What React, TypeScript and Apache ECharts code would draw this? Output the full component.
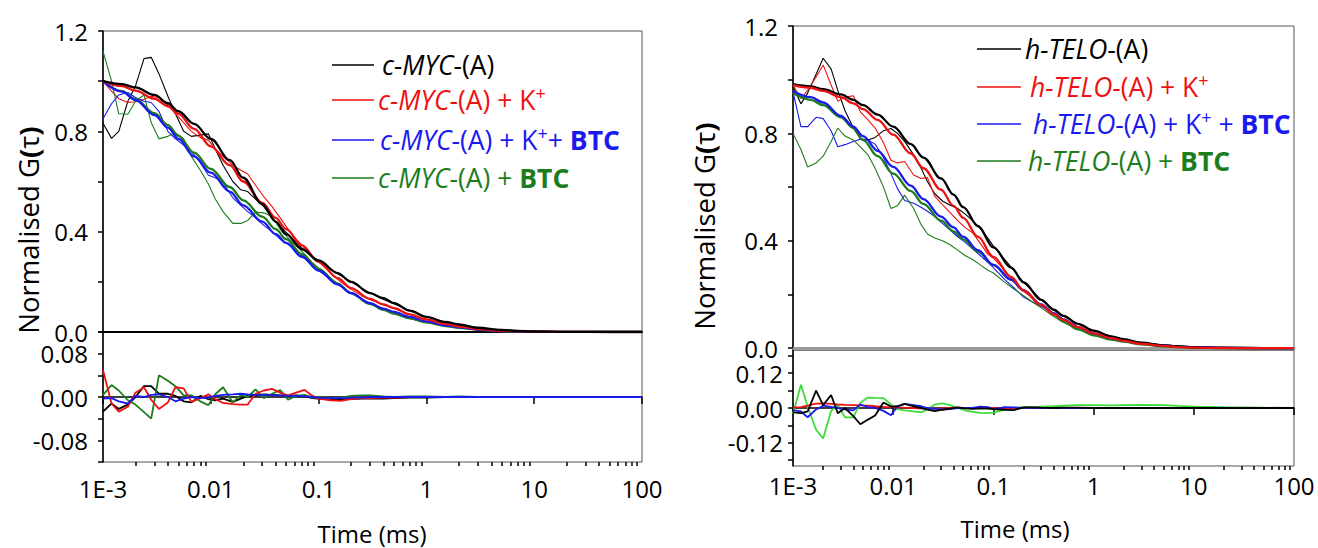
import React, { useEffect, useRef } from "react";
import * as echarts from "echarts";

const FONT = "'Open Sans', sans-serif";

// ---- time grids (ms) ----
const FIT_T = [0.001, 0.0015, 0.002, 0.003, 0.004, 0.005, 0.007, 0.01, 0.015, 0.02, 0.03, 0.04, 0.05, 0.07, 0.1, 0.15, 0.2, 0.3, 0.4, 0.5, 0.7, 1, 1.5, 2, 3, 5, 7, 10, 20, 50, 100];
const DATA_T = [0.001, 0.0012, 0.0014, 0.0017, 0.002, 0.0024, 0.0028, 0.0033, 0.004, 0.0047, 0.0056, 0.0066, 0.008, 0.0095, 0.011, 0.013, 0.016, 0.019, 0.022, 0.026, 0.031, 0.037, 0.044, 0.052, 0.062, 0.074, 0.088, 0.1,
  0.13, 0.16, 0.2, 0.25, 0.3, 0.4, 0.5, 0.7, 1, 1.5, 2, 3, 5, 7, 10, 20, 50, 100];

// ---- tick labels ----
const X_LABELS = ["1E-3", "0.01", "0.1", "1", "10", "100"];
const X_MINOR = [0.002, 0.003, 0.004, 0.005, 0.006, 0.007, 0.008, 0.009, 0.02, 0.03, 0.04, 0.05, 0.06, 0.07, 0.08, 0.09, 0.2, 0.3, 0.4, 0.5, 0.6, 0.7, 0.8, 0.9, 2, 3, 4, 5, 6, 7, 8, 9, 20, 30, 40, 50, 60, 70, 80, 90];
const Y_MAIN_TICKS = [0, 0.2, 0.4, 0.6, 0.8, 1.0, 1.2];
const Y_MAIN_LABELS = [0, 0.4, 0.8, 1.2];
const Y_RES_L_LABELS = [-0.08, 0, 0.08];
const Y_RES_R_TICKS = [-0.18, -0.12, -0.06, 0, 0.06, 0.12, 0.18];
const Y_RES_R_LABELS = [-0.12, 0, 0.12];

// ---- c-MYC panel: fits ----
const blackFitL = [1.0, 0.988, 0.975, 0.945, 0.912, 0.88, 0.83, 0.77, 0.685, 0.615, 0.51, 0.44, 0.39, 0.33, 0.285, 0.235, 0.2, 0.155, 0.135, 0.115, 0.085, 0.06, 0.04, 0.03, 0.017, 0.008, 0.004, 0.002, 0.0005, 0, 0];
const redFitL = [1.0, 0.98, 0.962, 0.93, 0.9, 0.87, 0.81, 0.74, 0.665, 0.6, 0.515, 0.455, 0.41, 0.345, 0.28, 0.215, 0.175, 0.132, 0.11, 0.095, 0.07, 0.05, 0.032, 0.022, 0.012, 0.005, 0.003, 0.0015, 0.0003, 0, 0];
const blueFitL = [1.0, 0.958, 0.925, 0.865, 0.815, 0.77, 0.7, 0.635, 0.56, 0.505, 0.44, 0.39, 0.355, 0.3, 0.245, 0.19, 0.155, 0.115, 0.093, 0.08, 0.06, 0.042, 0.027, 0.019, 0.01, 0.004, 0.002, 0.001, 0.0002, 0, 0];
const greenFitL = [1.0, 0.96, 0.928, 0.872, 0.825, 0.782, 0.715, 0.65, 0.578, 0.525, 0.46, 0.41, 0.37, 0.31, 0.252, 0.193, 0.155, 0.112, 0.088, 0.073, 0.054, 0.038, 0.024, 0.017, 0.009, 0.004, 0.002, 0.001, 0.0002, 0, 0];

// ---- c-MYC panel: measured data ----
const blackDataL = [0.832, 0.772, 0.80, 0.92, 0.98, 1.09, 1.095, 1.03, 0.94, 0.87, 0.80, 0.78, 0.785, 0.79, 0.73, 0.665, 0.60, 0.567, 0.56, 0.53, 0.50, 0.455, 0.42, 0.39, 0.355, 0.325, 0.30, 0.285,
  0.25, 0.225, 0.2, 0.175, 0.156, 0.13, 0.113, 0.085, 0.06, 0.04, 0.03, 0.017, 0.008, 0.004, 0.002, 0.001, 0, 0];
const redDataL = [1.0, 0.96, 0.93, 0.915, 0.918, 0.928, 0.94, 0.935, 0.905, 0.87, 0.835, 0.80, 0.775, 0.765, 0.73, 0.70, 0.665, 0.645, 0.63, 0.585, 0.54, 0.50, 0.455, 0.41, 0.37, 0.335, 0.30, 0.28,
  0.235, 0.2, 0.17, 0.145, 0.13, 0.108, 0.094, 0.07, 0.05, 0.032, 0.022, 0.012, 0.005, 0.003, 0.0015, 0.0003, 0, 0];
const blueDataL = [0.85, 0.91, 0.945, 0.955, 0.935, 0.92, 0.915, 0.88, 0.80, 0.77, 0.745, 0.72, 0.675, 0.625, 0.615, 0.595, 0.535, 0.505, 0.48, 0.455, 0.425, 0.40, 0.37, 0.35, 0.325, 0.295, 0.265, 0.245,
  0.21, 0.182, 0.155, 0.132, 0.115, 0.093, 0.08, 0.06, 0.042, 0.027, 0.019, 0.01, 0.004, 0.002, 0.001, 0, 0, 0];
const greenDataL = [1.12, 1.0, 0.87, 0.868, 0.92, 0.945, 0.835, 0.77, 0.78, 0.795, 0.77, 0.70, 0.645, 0.59, 0.53, 0.48, 0.433, 0.433, 0.445, 0.478, 0.475, 0.46, 0.41, 0.375, 0.345, 0.31, 0.275, 0.255,
  0.215, 0.183, 0.155, 0.13, 0.112, 0.09, 0.072, 0.054, 0.038, 0.025, 0.017, 0.009, 0.004, 0.002, 0.001, 0, 0, 0];

// ---- c-MYC panel: residuals ----
const blackResL = [-0.027, -0.012, -0.022, -0.014, 0.0, 0.02, 0.02, 0.006, 0.006, 0.002, -0.008, -0.01, 0.002, -0.004, -0.006, -0.003, -0.009, -0.003, 0.002, 0.003, 0.005, 0.004, 0.003, 0.002, 0.003, 0.001, -0.002, -0.003,
  -0.005, -0.004, -0.004, -0.003, -0.003, -0.003, -0.002, -0.001, -0.001, 0, 0, 0, 0, 0, 0, 0, 0, 0];
const redResL = [0.05, -0.012, -0.027, -0.018, 0.008, 0.018, -0.005, -0.022, -0.01, 0.018, 0.016, -0.009, -0.002, 0.005, -0.004, -0.011, -0.013, -0.014, -0.014, 0.006, 0.012, 0.015, 0.008, 0.003, 0.008, 0.013, 0.002, -0.003,
  -0.006, -0.007, -0.004, -0.002, -0.002, -0.001, -0.001, 0, 0, 0, 0, 0, 0, 0, 0, 0, 0, 0];
const greenResL = [0.004, 0.022, 0.012, -0.006, -0.014, -0.028, -0.04, 0.04, 0.03, 0.02, 0.003, 0.003, -0.008, -0.015, 0.005, 0.018, -0.01, 0.004, 0.0, 0.014, -0.002, 0.006, 0.013, -0.005, 0.002, 0.004, -0.001, 0.0,
  -0.002, -0.001, 0.002, 0.003, 0.003, 0.001, 0, 0.001, 0.001, 0, 0.001, 0, 0, 0, 0, 0, 0, 0];
const blueResL = [-0.003, -0.002, -0.008, -0.012, 0.002, 0.0, 0.004, 0.005, 0.0, -0.008, -0.003, 0.0, -0.002, -0.001, 0.002, 0.004, 0.005, 0.006, 0.005, 0.004, 0.004, 0.003, 0.003, 0.002, 0.002, 0.001, 0.0, -0.001,
  -0.002, -0.002, -0.001, -0.001, 0, 0, 0, 0, 0, 0, 0, 0, 0, 0, 0, 0, 0, 0];

// ---- h-TELO panel: fits ----
const blackFitR = [0.983, 0.975, 0.965, 0.945, 0.925, 0.905, 0.87, 0.825, 0.76, 0.71, 0.632, 0.572, 0.525, 0.455, 0.375, 0.3, 0.245, 0.18, 0.143, 0.12, 0.09, 0.065, 0.044, 0.033, 0.02, 0.01, 0.006, 0.003, 0.001, 0, 0];
const redFitR = [0.98, 0.97, 0.958, 0.935, 0.912, 0.89, 0.85, 0.795, 0.725, 0.67, 0.59, 0.53, 0.485, 0.415, 0.34, 0.265, 0.215, 0.16, 0.127, 0.105, 0.078, 0.055, 0.037, 0.027, 0.016, 0.008, 0.004, 0.002, 0.0005, 0, 0];
const blueFitR = [0.958, 0.935, 0.915, 0.865, 0.825, 0.79, 0.735, 0.675, 0.605, 0.555, 0.49, 0.45, 0.415, 0.365, 0.31, 0.255, 0.215, 0.163, 0.13, 0.107, 0.078, 0.055, 0.037, 0.028, 0.018, 0.01, 0.006, 0.004, 0.0015, 0.0003, 0];
const greenFitR = [0.95, 0.925, 0.905, 0.86, 0.82, 0.775, 0.715, 0.65, 0.585, 0.537, 0.475, 0.435, 0.405, 0.36, 0.31, 0.255, 0.215, 0.16, 0.125, 0.1, 0.07, 0.048, 0.032, 0.024, 0.014, 0.007, 0.004, 0.002, 0.0005, 0, 0];

// ---- h-TELO panel: measured data ----
const blackDataR = [0.975, 0.91, 0.95, 1.02, 1.08, 1.04, 0.96, 0.885, 0.82, 0.78, 0.775, 0.785, 0.81, 0.818, 0.80, 0.77, 0.72, 0.67, 0.62, 0.575, 0.548, 0.532, 0.52, 0.50, 0.475, 0.445, 0.41, 0.38,
  0.33, 0.29, 0.245, 0.21, 0.18, 0.143, 0.12, 0.09, 0.065, 0.044, 0.033, 0.02, 0.01, 0.006, 0.003, 0.001, 0, 0];
const redDataR = [0.98, 0.93, 0.96, 1.01, 1.055, 0.98, 0.92, 0.935, 0.94, 0.88, 0.85, 0.82, 0.765, 0.70, 0.69, 0.695, 0.645, 0.632, 0.635, 0.565, 0.535, 0.505, 0.475, 0.45, 0.43, 0.39, 0.35, 0.335,
  0.29, 0.25, 0.212, 0.185, 0.16, 0.127, 0.105, 0.078, 0.055, 0.037, 0.027, 0.016, 0.008, 0.004, 0.002, 0.0005, 0, 0];
const blueDataR = [0.955, 0.825, 0.825, 0.86, 0.855, 0.81, 0.75, 0.758, 0.77, 0.778, 0.775, 0.76, 0.71, 0.65, 0.595, 0.55, 0.54, 0.525, 0.51, 0.49, 0.465, 0.44, 0.415, 0.395, 0.37, 0.345, 0.32, 0.3,
  0.255, 0.225, 0.19, 0.17, 0.155, 0.13, 0.108, 0.08, 0.057, 0.04, 0.03, 0.02, 0.012, 0.008, 0.005, 0.002, 0, 0];
const greenDataR = [0.80, 0.74, 0.675, 0.69, 0.715, 0.77, 0.82, 0.79, 0.775, 0.75, 0.72, 0.67, 0.60, 0.52, 0.53, 0.57, 0.52, 0.46, 0.425, 0.41, 0.40, 0.385, 0.365, 0.345, 0.33, 0.31, 0.29, 0.28,
  0.245, 0.22, 0.195, 0.17, 0.15, 0.118, 0.095, 0.07, 0.048, 0.032, 0.024, 0.014, 0.007, 0.004, 0.002, 0.0005, 0, 0];

// ---- h-TELO panel: residuals ----
const greenResR = [-0.02, 0.08, 0.005, -0.075, -0.105, -0.01, 0.01, -0.032, -0.032, 0.018, 0.036, 0.035, 0.034, 0.012, -0.004, -0.008, -0.012, -0.015, -0.005, 0.012, 0.016, 0.01, 0.0, -0.008, -0.013, -0.017, -0.018, -0.016,
  -0.006, 0.0, 0.003, 0.003, 0.005, 0.006, 0.008, 0.01, 0.01, 0.009, 0.01, 0.011, 0.01, 0.007, 0.005, 0.003, 0.001, 0];
const redResR = [0.002, 0.003, 0.008, 0.015, 0.016, 0.014, 0.012, 0.011, 0.01, 0.009, 0.008, 0.006, 0.004, 0.003, 0.002, 0.001, 0.0, -0.001, -0.002, -0.002, -0.001, 0.0, 0.001, 0, 0, 0, 0, 0,
  0, 0, 0, 0, 0, 0, 0, 0, 0, 0, 0, 0, 0, 0, 0, 0, 0, 0];
const blueResR = [-0.007, -0.012, -0.032, -0.005, 0.008, 0.004, 0.0, -0.005, -0.008, 0.012, 0.003, 0.0, -0.01, -0.025, 0.005, 0.014, 0.01, 0.006, 0.0, -0.003, -0.005, -0.004, 0.0, 0.0, 0.0, 0.005, 0.003, -0.004,
  0.003, 0.002, 0, 0.001, 0, 0, 0, 0, 0, 0, 0, 0, 0, 0, 0, 0, 0, 0];
const blackResR = [-0.015, -0.018, -0.012, 0.06, 0.01, 0.045, -0.018, 0.0, -0.028, -0.056, -0.04, -0.026, 0.019, 0.005, 0.006, 0.014, 0.006, 0.0, -0.006, -0.011, -0.006, -0.002, 0.002, -0.001, -0.003, -0.001, -0.002, -0.004,
  -0.006, -0.007, 0.002, 0.002, 0.001, 0.0, 0.001, 0.001, 0, 0, 0, 0, 0, 0, 0, 0, 0, 0];

// ---- legend texts ----
const LEGEND_L = [
  "{i|c-MYC}{n|-(A)}",
  "{i|c-MYC}{n|-(A) + K}{s|+}",
  "{i|c-MYC}{n|-(A) + K}{s|+}{n|+ }{b|BTC}",
  "{i|c-MYC}{n|-(A) + }{b|BTC}",
];
const LEGEND_R = [
  "{i|h-TELO}{n|-(A)}",
  "{i|h-TELO}{n|-(A) + K}{s|+}",
  "{i|h-TELO}{n|-(A) + K}{s|+}{n| + }{b|BTC}",
  "{i|h-TELO}{n|-(A) + }{b|BTC}",
];

const BLACK = "#000000";
const RED = "#ee1111";
const BLUE = "#1a1aee";
const GREEN = "#1d7d1d";
const LIME = "#3ddc3d";

function pairs(ts: number[], vs: number[]) {
  return ts.map((t, i) => [t, vs[i]]);
}

function ser(xi: number, yi: number, ts: number[], vs: number[], color: string, width: number, smooth: boolean) {
  return {
    type: "line",
    xAxisIndex: xi,
    yAxisIndex: yi,
    data: pairs(ts, vs),
    showSymbol: false,
    symbol: "none",
    smooth: smooth ? 0.35 : false,
    smoothMonotone: smooth ? "x" : undefined,
    lineStyle: { color, width },
    itemStyle: { color },
    silent: true,
    animation: false,
  };
}

function rich(color: string) {
  const base = { fontFamily: FONT, fontSize: 26.5, fill: color, lineHeight: 32 };
  return {
    i: { ...base, fontStyle: "italic" },
    n: { ...base },
    b: { ...base, fontWeight: "bold" },
    s: { fontFamily: FONT, fontSize: 18, fill: color, verticalAlign: "top", lineHeight: 12 },
  };
}

function legendRow(x1: number, x2: number, y: number, tx: number, color: string, text: string) {
  return [
    { type: "line", shape: { x1, y1: y, x2, y2: y }, style: { stroke: color, lineWidth: 1.6 } },
    { type: "text", x: tx, y, style: { text, rich: rich(color), align: "left", verticalAlign: "middle" } },
  ];
}

function yName(x: number, y: number) {
  return {
    type: "text",
    x,
    y,
    rotation: Math.PI / 2,
    style: {
      text: "{n|Normalised G}{p|(}{n|τ}{p|)}",
      rich: {
        n: { fontFamily: FONT, fontSize: 27.5, fill: "#000" },
        p: { fontFamily: FONT, fontSize: 27.5, fill: "#000", fontWeight: "bold" },
      },
      align: "center",
      verticalAlign: "middle",
    },
  };
}

function xName(x: number, y: number) {
  return {
    type: "text",
    x,
    y,
    style: { text: "Time (ms)", fontFamily: FONT, fontSize: 24, fill: "#000", align: "center", verticalAlign: "middle" },
  };
}

const tickStyle = { color: "#000", width: 1.5 };
const labelBase = { fontFamily: FONT, fontSize: 24, color: "#000" };

function near(v: number, list: number[]) {
  return list.some((l) => Math.abs(l - v) < 1e-6);
}

function buildOption() {
  const gridBase = { show: true, borderColor: "#555", borderWidth: 1, backgroundColor: "transparent", containLabel: false, outerBoundsMode: "none" };
  const grid = [
    { ...gridBase, left: 103, top: 31, width: 539, height: 301 },
    { ...gridBase, left: 103, top: 332, width: 539, height: 130 },
    { ...gridBase, left: 793, top: 26, width: 501, height: 324 },
    { ...gridBase, left: 793, top: 350, width: 501, height: 116 },
  ];

  const logBase = { type: "log", logBase: 10, min: 0.001, max: 100, splitLine: { show: false } };
  const xLabel = (margin: number) => ({
    ...labelBase,
    margin,
    formatter: (v: number) => X_LABELS[Math.round(Math.log10(v)) + 3] ?? "",
  });

  const xAxis = [
    { ...logBase, gridIndex: 0, axisLine: { show: true, lineStyle: { color: "#000", width: 2 } }, axisTick: { show: false }, axisLabel: { show: false } },
    { ...logBase, gridIndex: 1, position: "bottom", axisLine: { show: true, lineStyle: { color: "#000", width: 1.5 } }, axisTick: { show: true, length: 7, lineStyle: tickStyle }, axisLabel: xLabel(14) },
    { ...logBase, gridIndex: 1, position: "bottom", axisLine: { show: false }, axisTick: { show: true, length: 4, customValues: X_MINOR, lineStyle: tickStyle }, axisLabel: { show: false } },
    { ...logBase, gridIndex: 2, axisLine: { show: true, lineStyle: { color: "#9a9a9a", width: 3 } }, axisTick: { show: false }, axisLabel: { show: false } },
    { ...logBase, gridIndex: 3, position: "bottom", axisLine: { show: true, lineStyle: { color: "#000", width: 1.5 } }, axisTick: { show: true, length: 7, lineStyle: tickStyle }, axisLabel: xLabel(7) },
    { ...logBase, gridIndex: 3, position: "bottom", axisLine: { show: false }, axisTick: { show: true, length: 4, customValues: X_MINOR, lineStyle: tickStyle }, axisLabel: { show: false } },
  ];

  const yAxis = [
    {
      type: "value", gridIndex: 0, min: 0, max: 1.2, interval: 0.2,
      axisLine: { show: true, lineStyle: { color: "#000", width: 1.5 } },
      axisTick: { show: true, length: 5, lineStyle: tickStyle },
      axisLabel: { ...labelBase, margin: 15, formatter: (v: number) => (near(v, Y_MAIN_LABELS) ? v.toFixed(1) : "") },
      splitLine: { show: false },
    },
    {
      type: "value", gridIndex: 1, min: -0.12, max: 0.12, interval: 0.04,
      axisLine: { show: true, lineStyle: { color: "#000", width: 1.5 } },
      axisTick: { show: true, length: 5, lineStyle: tickStyle },
      axisLabel: { ...labelBase, margin: 15, formatter: (v: number) => (near(v, Y_RES_L_LABELS) ? v.toFixed(2) : "") },
      splitLine: { show: false },
    },
    {
      type: "value", gridIndex: 2, min: -0.007, max: 1.2,
      axisLine: { show: true, lineStyle: { color: "#000", width: 1.5 } },
      axisTick: { show: true, length: 5, customValues: Y_MAIN_TICKS, lineStyle: tickStyle },
      axisLabel: { ...labelBase, margin: 15, customValues: Y_MAIN_LABELS, formatter: (v: number) => v.toFixed(1) },
      splitLine: { show: false },
    },
    {
      type: "value", gridIndex: 3, min: -0.2, max: 0.2,
      axisLine: { show: true, lineStyle: { color: "#000", width: 1.5 } },
      axisTick: { show: true, length: 5, customValues: Y_RES_R_TICKS, lineStyle: tickStyle },
      axisLabel: { ...labelBase, margin: 10, customValues: Y_RES_R_LABELS, formatter: (v: number) => v.toFixed(2) },
      splitLine: { show: false },
    },
  ];

  const series = [
    // c-MYC main: data (thin)
    ser(0, 0, DATA_T, blackDataL, BLACK, 1.1, false),
    ser(0, 0, DATA_T, redDataL, RED, 1.1, false),
    ser(0, 0, DATA_T, blueDataL, BLUE, 1.1, false),
    ser(0, 0, DATA_T, greenDataL, GREEN, 1.1, false),
    // c-MYC main: fits (thick)
    ser(0, 0, FIT_T, greenFitL, GREEN, 2.3, true),
    ser(0, 0, FIT_T, blueFitL, BLUE, 2.3, true),
    ser(0, 0, FIT_T, redFitL, RED, 2.3, true),
    ser(0, 0, FIT_T, blackFitL, BLACK, 2.3, true),
    // c-MYC residuals
    ser(1, 1, DATA_T, blackResL, BLACK, 1.8, false),
    ser(1, 1, DATA_T, greenResL, GREEN, 1.8, false),
    ser(1, 1, DATA_T, redResL, RED, 1.8, false),
    ser(1, 1, DATA_T, blueResL, BLUE, 1.8, false),
    // h-TELO main: data
    ser(3, 2, DATA_T, blackDataR, BLACK, 1.1, false),
    ser(3, 2, DATA_T, redDataR, RED, 1.1, false),
    ser(3, 2, DATA_T, blueDataR, BLUE, 1.1, false),
    ser(3, 2, DATA_T, greenDataR, GREEN, 1.1, false),
    // h-TELO main: fits
    ser(3, 2, FIT_T, greenFitR, GREEN, 2.3, true),
    ser(3, 2, FIT_T, blueFitR, BLUE, 2.3, true),
    ser(3, 2, FIT_T, blackFitR, BLACK, 2.3, true),
    ser(3, 2, FIT_T, redFitR, RED, 2.3, true),
    // h-TELO residuals
    ser(4, 3, DATA_T, greenResR, LIME, 1.8, false),
    ser(4, 3, DATA_T, redResR, RED, 1.8, false),
    ser(4, 3, DATA_T, blueResR, BLUE, 1.8, false),
    ser(4, 3, DATA_T, blackResR, BLACK, 1.8, false),
  ];

  const colors = [BLACK, RED, BLUE, GREEN];
  const lRows = [65, 100, 140, 178];
  const lTx = [382, 378, 380, 378];
  const rRows = [49, 87, 124, 161];
  const rTx = [1025, 1030, 1033, 1028];
  const graphic: any[] = [];
  LEGEND_L.forEach((t, i) => graphic.push(...legendRow(332, 374, lRows[i], lTx[i], colors[i], t)));
  LEGEND_R.forEach((t, i) => graphic.push(...legendRow(977, 1021, rRows[i], rTx[i], colors[i], t)));
  graphic.push(yName(28, 230), yName(704, 226), xName(372, 533), xName(1015, 528));

  return { animation: false, grid, xAxis, yAxis, series, graphic };
}

export default function App() {
  const ref = useRef<HTMLDivElement>(null);
  useEffect(() => {
    if (!ref.current) return;
    const chart = echarts.init(ref.current, null, { renderer: "svg" });
    chart.setOption(buildOption() as any);
    return () => chart.dispose();
  }, []);
  return <div ref={ref} style={{ position: "absolute", left: 0, top: 0, width: 1318, height: 548, background: "#fff" }} />;
}
